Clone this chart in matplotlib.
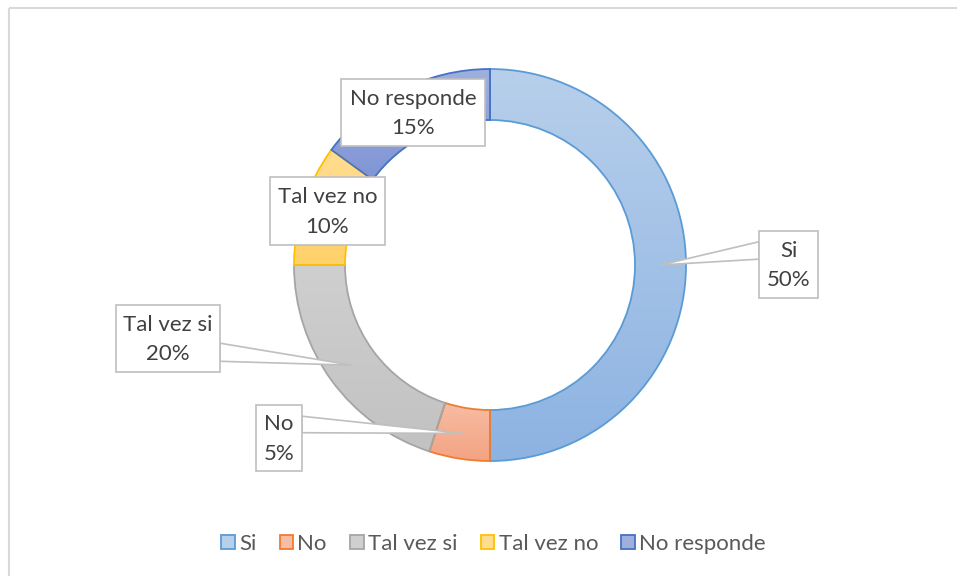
import numpy as np
import matplotlib
matplotlib.use("Agg")
import matplotlib.pyplot as plt
from matplotlib.colors import LinearSegmentedColormap
from matplotlib.patches import Rectangle, Polygon, Patch

# data
categories = ["Si", "No", "Tal vez si", "Tal vez no", "No responde"]
values = [50, 5, 20, 10, 15]
pct_labels = ["50%", "5%", "20%", "10%", "15%"]

edge_colors = ["#5b9bd5", "#ed7d31", "#a5a5a5", "#ffc000", "#4472c4"]
fill_top = ["#b7cfeb", "#f7bca4", "#cfcfcf", "#ffdd90", "#9fb0df"]
fill_bottom = ["#8db3e2", "#f4a382", "#c2c2c2", "#ffd169", "#7f95d5"]

# label boxes in pixels (x0, y0, x1, y1); callout attach points as fractions of box height
label_boxes = [(759, 231, 818, 298), (256, 405, 302, 471), (116, 305, 220, 372),
               (270, 177, 385, 245), (341, 79, 485, 146)]
callout = [(0.16, 0.42), (0.17, 0.42), (0.57, 0.84), None, None]

W, H = 957, 576
cx, cy, r_out, r_in = 490, 265, 196, 145

plt.rcParams['font.family'] = ['Lato', 'DejaVu Sans']

fig = plt.figure(figsize=(W / 100, H / 100), dpi=100)

ax = fig.add_axes([(cx - r_out) / W, 1 - (cy + r_out) / H, 2 * r_out / W, 2 * r_out / H])
wedges, _ = ax.pie(values, startangle=90, counterclock=False,
                   wedgeprops=dict(width=(r_out - r_in) / r_out, linewidth=1.3))

for w, ec, c0, c1 in zip(wedges, edge_colors, fill_top, fill_bottom):
    ext = w.get_path().get_extents()
    cmap = LinearSegmentedColormap.from_list("g", [c0, c1])
    grad = np.linspace(0, 1, 256).reshape(-1, 1)
    im = ax.imshow(grad, cmap=cmap, extent=(ext.x0, ext.x1, ext.y0, ext.y1),
                   origin="upper", aspect="auto", interpolation="bilinear", zorder=1)
    im.set_clip_path(w)
    w.set_facecolor("none")
    w.set_edgecolor(ec)
    w.set_zorder(2)

ax.set_xlim(-1, 1)
ax.set_ylim(-1, 1)
ax.axis("off")

# overlay in pixel coordinates
ov = fig.add_axes([0, 0, 1, 1], zorder=5)
ov.set_xlim(0, W)
ov.set_ylim(H, 0)
ov.axis("off")
ov.patch.set_alpha(0)

# chart frame
ov.add_patch(Rectangle((8.5, 7.5), W + 20, H + 20, fill=False, edgecolor="#d9d9d9", linewidth=1.5))

r_mid = (r_out + r_in) / 2
for w, cat, pct, box, co in zip(wedges, categories, pct_labels, label_boxes, callout):
    x0, y0, x1, y1 = box
    if co:
        ang = np.deg2rad((w.theta1 + w.theta2) / 2)
        tx = cx + r_mid * np.cos(ang)
        ty = cy - r_mid * np.sin(ang)
        ex = x0 if tx < x0 else x1
        ya = y0 + (y1 - y0) * co[0]
        yb = y0 + (y1 - y0) * co[1]
        ov.add_patch(Polygon([(ex, ya), (tx, ty), (ex, yb)], closed=True,
                             facecolor="white", edgecolor="#bfbfbf", linewidth=1.2, zorder=3))
    ov.add_patch(Rectangle((x0, y0), x1 - x0, y1 - y0, facecolor="white",
                           edgecolor="#bfbfbf", linewidth=1.2, zorder=4))
    ov.text((x0 + x1) / 2, (y0 + y1) / 2 + 1, f"{cat}\n{pct}", ha="center", va="center",
            fontsize=16, color="#404040", linespacing=1.6, zorder=5)

handles = [Patch(facecolor=c, edgecolor=e, linewidth=1.3) for c, e in zip(fill_top, edge_colors)]
fig.legend(handles, categories, loc="center", bbox_to_anchor=(493.5 / W, 1 - 544 / H), ncol=5,
           frameon=False, fontsize=16, labelcolor="#595959", handlelength=0.6, handleheight=0.6,
           handletextpad=0.2, columnspacing=1.05)

fig.savefig("out.png", dpi=100, facecolor="white")
